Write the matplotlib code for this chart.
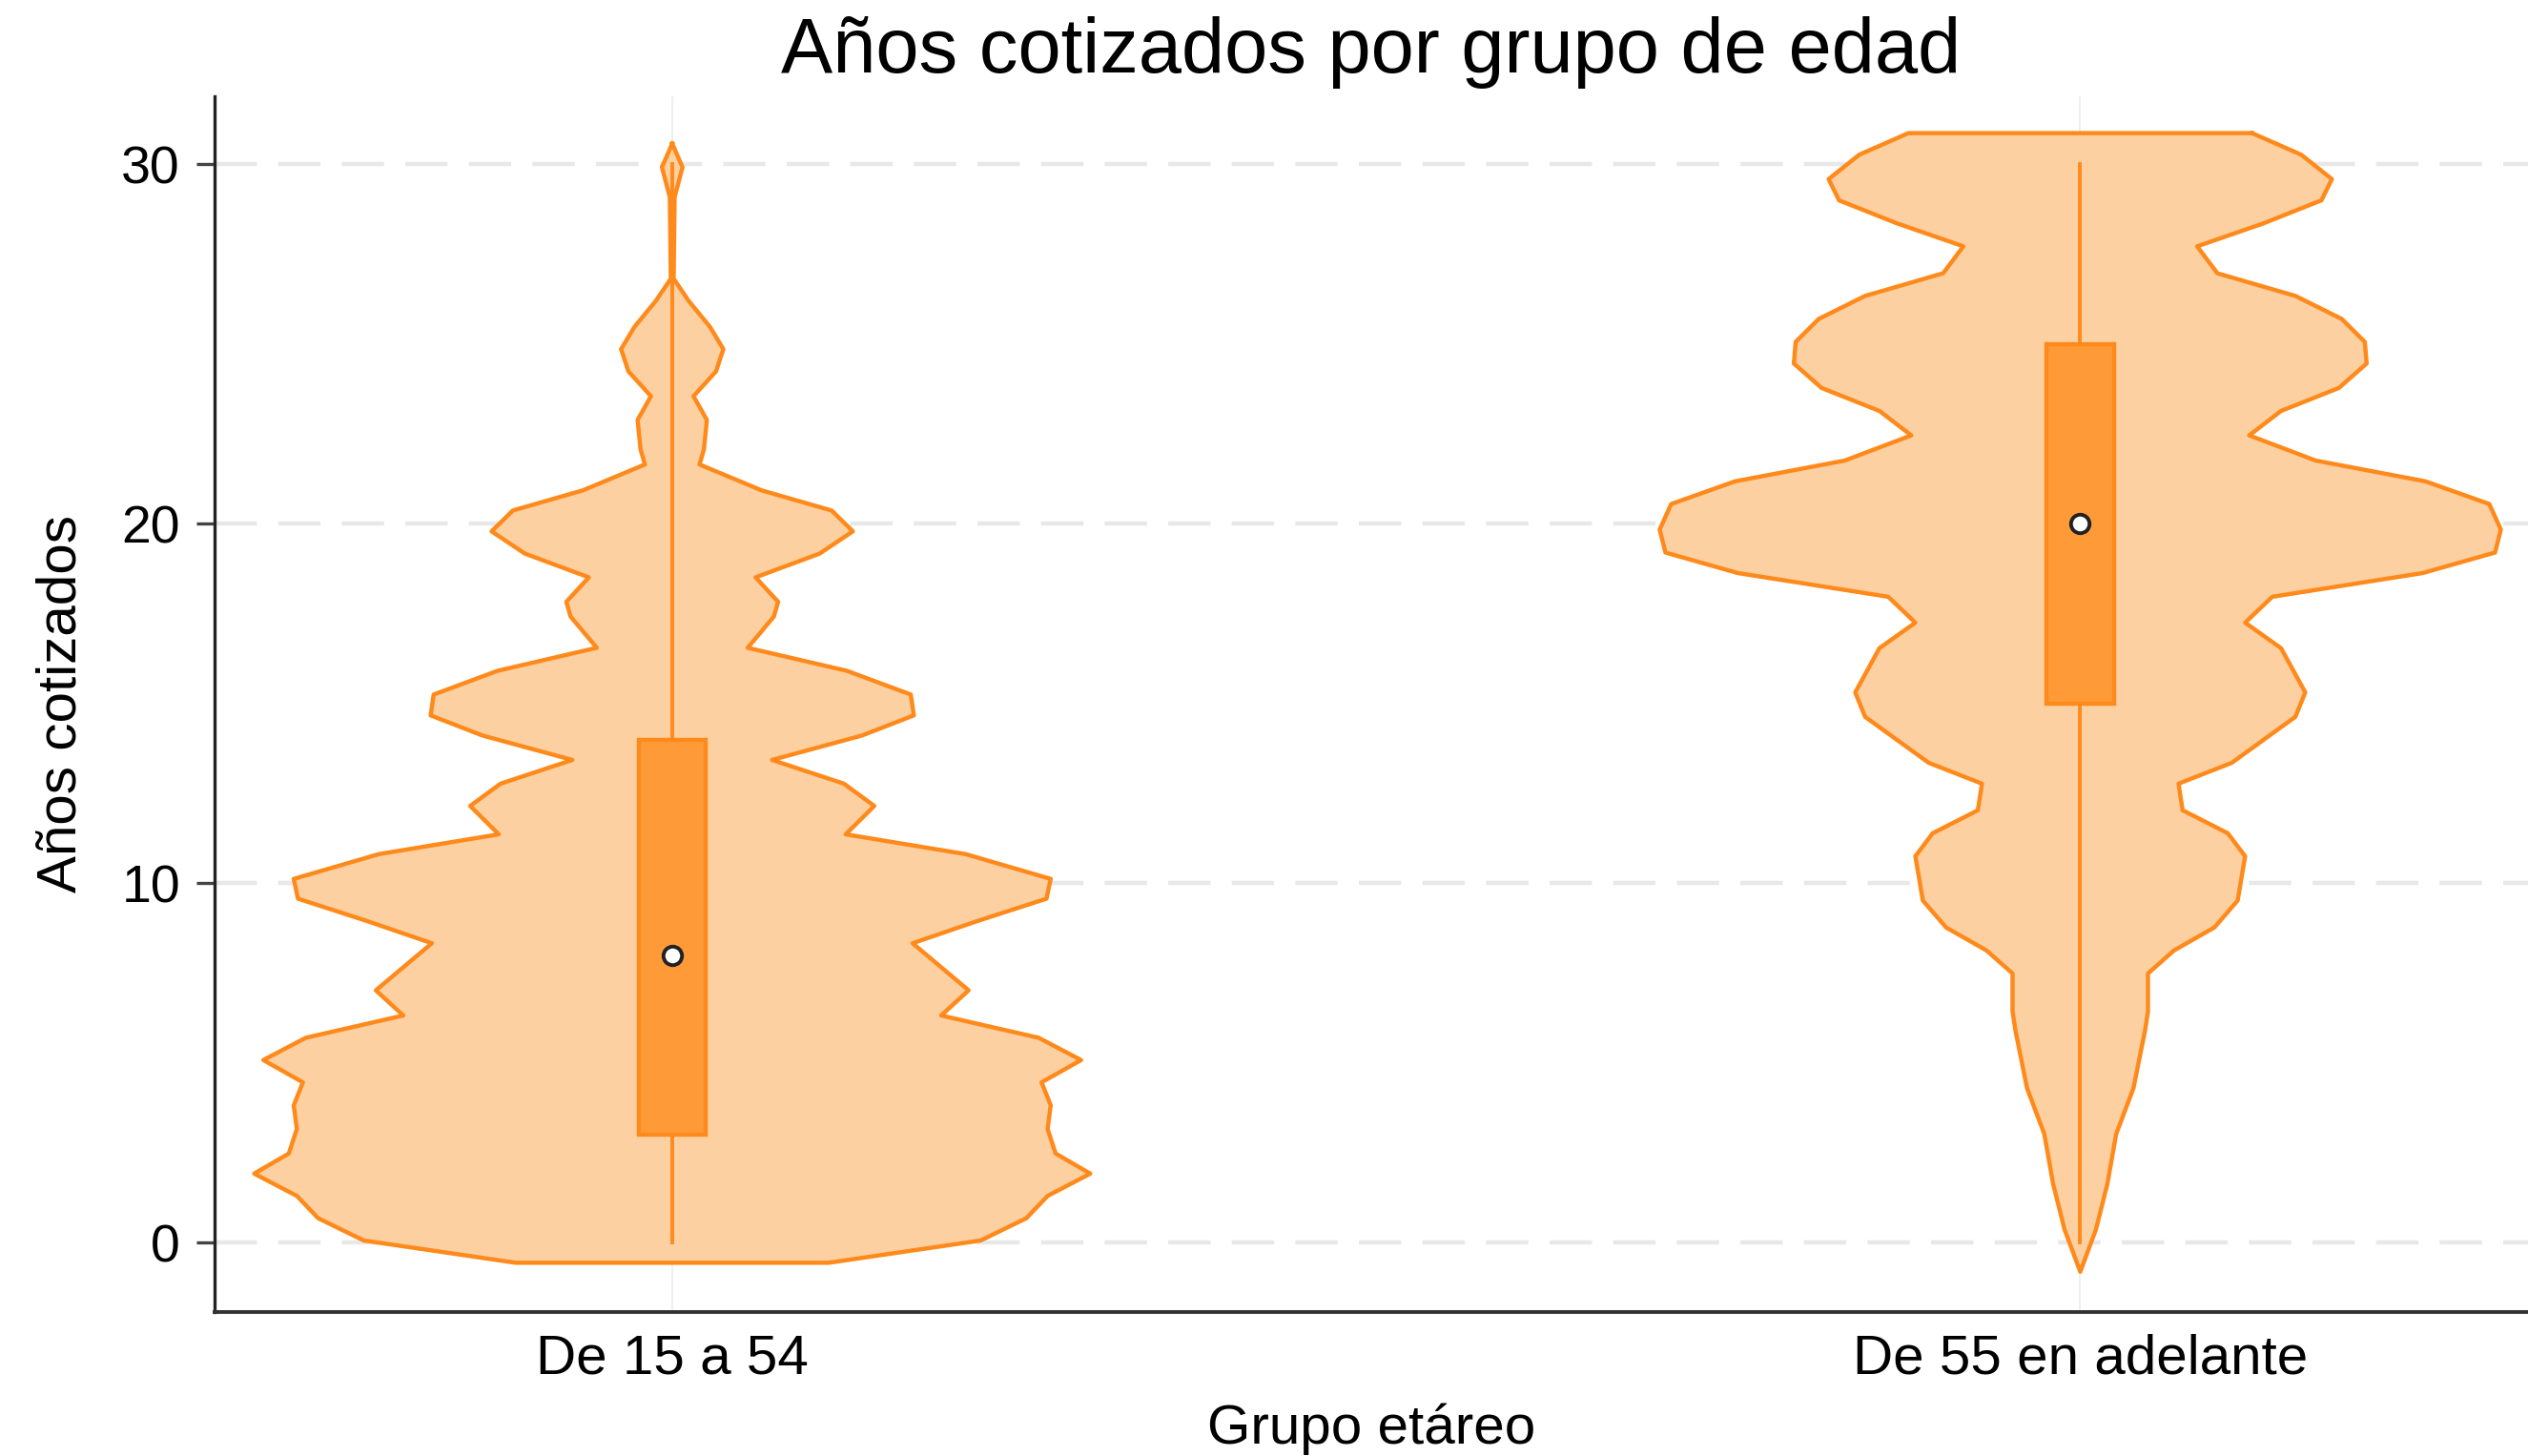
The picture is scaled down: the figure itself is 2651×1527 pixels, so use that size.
import numpy as np
import matplotlib
matplotlib.use("Agg")
import matplotlib.pyplot as plt

plt.rcParams['font.family'] = ['Liberation Sans', 'DejaVu Sans']

# categories
grupos = ['De 15 a 54', 'De 55 en adelante']

# violin outline: y value and half-width (x units)
v1_y = [30.58, 29.92, 29.09, 26.82, 26.20, 25.48, 24.86, 24.24, 23.55, 22.89,
        22.07, 21.65, 20.93, 20.37, 19.79, 19.17, 18.51, 17.83, 17.42, 16.55,
        15.91, 15.25, 14.67, 14.11, 13.43, 12.77, 12.15, 11.36, 10.81, 10.12,
        9.57, 8.95, 8.33, 7.02, 6.32, 5.70, 5.08, 4.46, 3.82, 3.16,
        2.48, 1.92, 1.30, 0.68, 0.06, -0.56]
v1_w = [0.0, 0.0073, 0.0017, 0.0010, 0.0117, 0.0268, 0.0363, 0.0311, 0.0151, 0.0246,
        0.0225, 0.0194, 0.0635, 0.1132, 0.1283, 0.1046, 0.0592, 0.0752, 0.0722, 0.0536,
        0.1240, 0.1694, 0.1716, 0.1348, 0.0709, 0.1219, 0.1435, 0.1232, 0.2083, 0.2688,
        0.2658, 0.2169, 0.1707, 0.2105, 0.1910, 0.2602, 0.2904, 0.2623, 0.2688, 0.2666,
        0.2723, 0.2969, 0.2666, 0.2515, 0.2191, 0.1111]

v2_y = [30.87, 30.27, 29.59, 29.00, 28.36, 27.72, 26.97, 26.34, 25.70, 25.06,
        24.46, 23.78, 23.14, 22.46, 21.76, 21.18, 20.55, 19.84, 19.20, 18.63,
        17.97, 17.25, 16.54, 15.31, 14.63, 13.35, 12.77, 12.03, 11.39, 10.75,
        9.52, 8.77, 8.13, 7.49, 6.43, 5.90, 4.30, 3.02, 1.64, 0.36, -0.81]
v2_w = [0.1220, 0.1569, 0.1787, 0.1713, 0.1302, 0.0830, 0.0974, 0.1528, 0.1857, 0.2021,
        0.2034, 0.1837, 0.1426, 0.1200, 0.1672, 0.2453, 0.2905, 0.2987, 0.2946, 0.2432,
        0.1364, 0.1171, 0.1426, 0.1598, 0.1528, 0.1076, 0.0698, 0.0727, 0.1048, 0.1171,
        0.1118, 0.0953, 0.0666, 0.0481, 0.0481, 0.0460, 0.0378, 0.0255, 0.0193, 0.0111, 0.0]

# box stats
q1 = [3, 15]
q3 = [14, 25]
medianas = [8, 20]
wmin = [0, 0]
wmax = [30, 30]

fill_c = '#fdd0a2'
line_c = '#ff8a1c'
box_c = '#fe9b38'

fig = plt.figure(figsize=(26.51, 15.27), dpi=100)
ax = fig.add_axes([0.0849, 0.0989, 0.9151, 0.8351])

for i, (vy, vw) in enumerate([(v1_y, v1_w), (v2_y, v2_w)]):
    vy = np.array(vy)
    vw = np.array(vw)
    ax.fill_betweenx(vy, i - vw, i + vw, facecolor=fill_c, edgecolor='none', zorder=2)
    xs = np.concatenate([i + vw, (i - vw)[::-1], [i + vw[0]]])
    ys = np.concatenate([vy, vy[::-1], [vy[0]]])
    ax.plot(xs, ys, color=line_c, lw=3.2, zorder=3, solid_joinstyle='round')
    ax.plot([i, i], [wmin[i], wmax[i]], color=line_c, lw=2.8, zorder=3)
    ax.bar(i, q3[i] - q1[i], bottom=q1[i], width=0.048, color=box_c,
           edgecolor=line_c, linewidth=3.2, zorder=4)
    ax.plot(i, medianas[i], 'o', ms=14, mfc='white', mec='#222222', mew=2.8, zorder=5)

ax.set_xlim(-0.325, 1.318)
ax.set_ylim(-1.93, 31.9)
ax.set_xticks([0, 1])
ax.set_xticklabels(grupos)
ax.set_yticks([0, 10, 20, 30])

ax.yaxis.grid(True, color='#e8e8e8', lw=3.2, linestyle=(0, (10, 5)), zorder=0)
ax.xaxis.grid(True, color='#ececec', lw=1.2, zorder=0)
ax.set_axisbelow(True)

for s in ['top', 'right']:
    ax.spines[s].set_visible(False)
ax.spines['left'].set_linewidth(2.4)
ax.spines['bottom'].set_linewidth(2.8)
ax.spines['left'].set_color('#222222')
ax.spines['bottom'].set_color('#333333')

ax.tick_params(axis='y', length=14, width=2.4, color='#444444', pad=12, labelsize=40)
ax.tick_params(axis='x', length=0, pad=16, labelsize=42)

ax.set_title('Años cotizados por grupo de edad', fontsize=58.5, pad=18)
ax.set_xlabel('Grupo etáreo', fontsize=42, labelpad=14)
ax.set_ylabel('Años cotizados', fontsize=42, labelpad=26)

fig.savefig('out.png', dpi=100)
